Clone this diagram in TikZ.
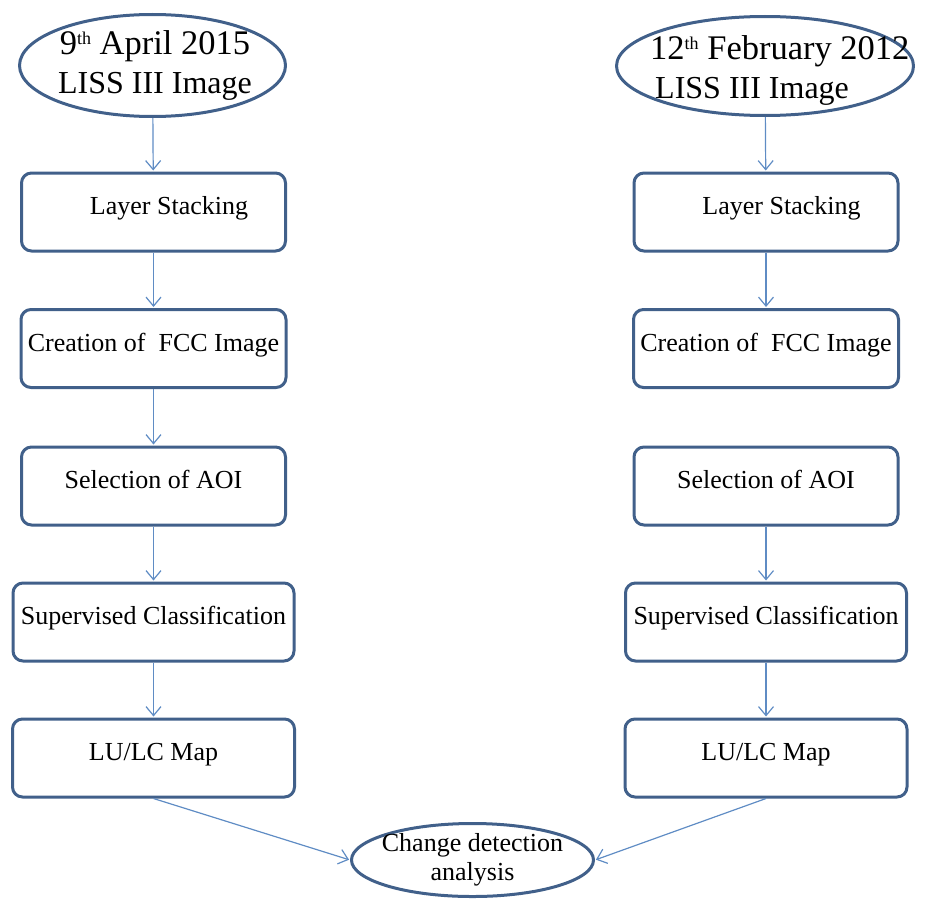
\documentclass[tikz,border=0pt]{standalone}
\usepackage{fontspec}
\setmainfont{Liberation Serif}
\usetikzlibrary{arrows.meta,shapes.geometric}
\definecolor{boxline}{HTML}{41608A}
\definecolor{arrline}{HTML}{5F8CC4}
\newcommand{\ordth}{\raisebox{10pt}{\fontsize{18}{18}\selectfont th}}
\tikzset{
  stepbox/.style={draw=boxline,line width=3pt,rounded corners=10pt,minimum height=78pt,inner sep=0pt,
    font=\fontsize{26}{28}\selectfont,text height=17pt,text depth=12pt},
  oval/.style={ellipse,draw=boxline,line width=3pt,inner sep=0pt},
  imgtext/.style={inner sep=0pt,font=\fontsize{34.5}{39}\selectfont},
  flow/.style={draw=arrline,line width=1.2pt,shorten >=1pt,-{Straight Barb[length=9pt,width=15pt]}}
}
\begin{document}
\begin{tikzpicture}[x=1pt,y=-1pt,line join=round]
  \useasboundingbox (0,0) rectangle (925,899);
  % the two images
  \node[oval,minimum width=266pt,minimum height=102pt] (L0) at (152.5,65.5) {};
  \node[oval,minimum width=297pt,minimum height=99pt] (R0) at (765,66) {};
  \node[imgtext,align=center,anchor=north] (L0t) at (155,30) {9\ordth{} April 2015\\\fontsize{32}{39}\selectfont LISS III Image};
  \node[imgtext,align=left,anchor=north west] (R0t) at (650,35) {12\ordth{} February 2012\\\fontsize{32}{39}\selectfont\hspace*{5pt}LISS III Image};
  % same steps on both sides
  \foreach \n/\y/\w/\s in {1/212/264/\hspace*{31pt}Layer Stacking,2/348.5/265/Creation of\ \ FCC Image,
    3/486/264/Selection of AOI,4/622/281/Supervised Classification,5/758/282/{LU/LC Map}}{
    \node[stepbox,minimum width=\w pt] (L\n) at (153.5,\y) {\s};
    \node[stepbox,minimum width=\w pt] (R\n) at (766,\y) {\s};
  }
  \node[oval,minimum width=242pt,minimum height=73pt] (CD) at (472.5,860) {};
  \node[inner sep=0pt,align=center,font=\fontsize{26}{29}\selectfont] (CDt) at (CD.center) {Change detection\\analysis};
  \foreach \a/\b in {L0/L1,L1/L2,L2/L3,L3/L4,L4/L5,R0/R1,R1/R2,R3/R4,R4/R5}{
    \draw[flow] (\a)--(\b);
  }
  \draw[flow] (L5.south)--(CD.west);
  \draw[flow] (R5.south)--(CD.east);
\end{tikzpicture}
\end{document}
